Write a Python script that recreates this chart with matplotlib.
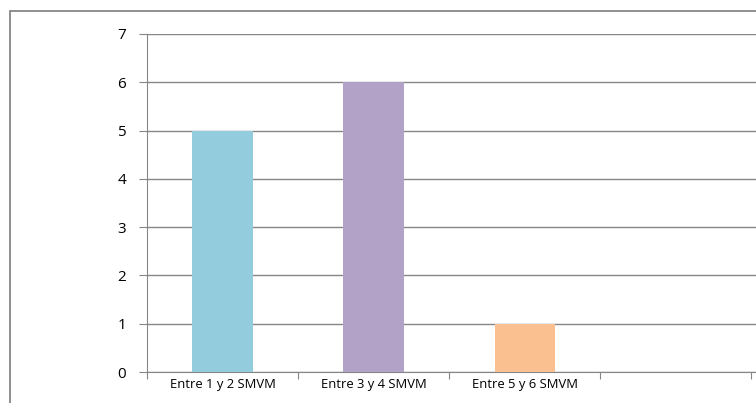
import matplotlib.pyplot as plt
from matplotlib.patches import Rectangle

plt.rcParams['font.family'] = ['Open Sans', 'DejaVu Sans']

categorias = ['Entre 1 y 2 SMVM', 'Entre 3 y 4 SMVM', 'Entre 5 y 6 SMVM', '']
valores = [5, 6, 1, 0]
colores = ['#93CDDD', '#B3A2C7', '#FAC090', '#FFFFFF']

W, H = 756, 403
fig = plt.figure(figsize=(W / 100, H / 100), dpi=100)

# marco gris del grafico (sigue mas alla del borde derecho e inferior)
fig.patches.append(Rectangle((10 / W, -0.05), 1.1, (H - 11) / H + 0.05,
                             transform=fig.transFigure, fill=False,
                             edgecolor='#878787', linewidth=1.3))

ax = fig.add_axes([147 / W, (H - 372) / H, 1 - 147 / W, (372 - 34) / H])
x = range(len(categorias))
ax.bar(x, valores, width=0.4, color=colores, zorder=3)

ax.set_ylim(0, 7)
ax.set_xlim(-0.5, 3.53)
ax.set_yticks(range(8))
ax.tick_params(axis='y', length=6, color='#868686', labelsize=11, pad=9)
ax.yaxis.grid(True, color='#868686', linewidth=1, zorder=0)

ax.set_xticks([i - 0.5 for i in range(5)])
ax.set_xticklabels([])
ax.set_xticks(list(x), minor=True)
ax.set_xticklabels(categorias, minor=True, fontsize=9.4)
ax.tick_params(axis='x', which='major', length=5, color='#868686')
ax.tick_params(axis='x', which='minor', length=0, pad=4)

for lado in ['top', 'right']:
    ax.spines[lado].set_visible(False)
for lado in ['left', 'bottom']:
    ax.spines[lado].set_color('#868686')

fig.savefig('out.png', dpi=100)
